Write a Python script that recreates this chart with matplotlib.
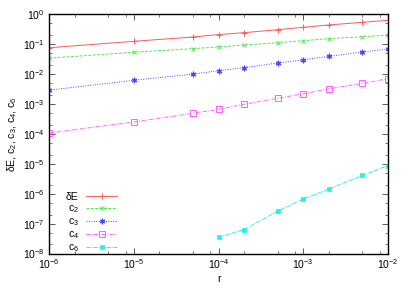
import matplotlib
matplotlib.use("Agg")
import matplotlib.pyplot as plt
from matplotlib.ticker import LogLocator, NullFormatter

r = [1e-6, 1e-5, 5e-5, 1e-4, 2e-4, 5e-4, 1e-3, 2e-3, 5e-3, 1e-2]
dE = [0.076, 0.125, 0.174, 0.21, 0.243, 0.305, 0.367, 0.44, 0.54, 0.63]
c2 = [0.034, 0.054, 0.071, 0.081, 0.094, 0.112, 0.131, 0.153, 0.178, 0.203]
c3 = [0.0029, 0.0062, 0.010, 0.013, 0.0164, 0.0235, 0.030, 0.039, 0.055, 0.069]
c4 = [1.07e-4, 2.5e-4, 4.9e-4, 6.6e-4, 9.8e-4, 1.55e-3, 2.2e-3, 3.2e-3, 4.9e-3, 7.0e-3]
r6 = [1e-4, 2e-4, 5e-4, 1e-3, 2e-3, 5e-3, 1e-2]
c6 = [3.5e-8, 6.3e-8, 2.6e-7, 6.6e-7, 1.43e-6, 4.1e-6, 8.7e-6]

plt.rcParams['font.family'] = ['Liberation Sans', 'DejaVu Sans']
plt.rcParams['mathtext.fontset'] = 'custom'
plt.rcParams['mathtext.rm'] = 'Liberation Sans'
plt.rcParams['mathtext.it'] = 'Liberation Sans'

fig = plt.figure(figsize=(4.15, 2.91), dpi=100)
ax = fig.add_axes([49/415, 1-253.5/291, (388-49)/415, (253.5-14.3)/291])

fs = 7.5
ax.plot(r, dE, color='#ff5a5a', lw=0.7, ls='-', marker='+', ms=4, mew=0.7, label='δE')
ax.plot(r, c2, color='#50e850', lw=0.7, ls=(0, (3, 1.5)), marker='x', ms=3.5, mew=0.7, label='c$_2$')
ax.plot(r, c3, color='#4848ff', lw=0.7, ls=(0, (1, 1.5)), marker=(6, 2, 0), ms=4, mew=0.9, label='c$_3$')
ax.plot(r, c4, color='#ff60ff', lw=0.7, ls=(0, (4, 1.5, 1, 1.5)), marker='s', ms=3.8, mew=0.7,
        mfc='none', label='c$_4$')
ax.plot(r6, c6, color='#20f0f0', lw=0.7, ls=(0, (4, 1, 1, 1)), marker='s', ms=3.3, mew=0.5,
        label='c$_6$')

ax.set_xscale('log')
ax.set_yscale('log')
ax.set_xlim(1e-6, 1e-2)
ax.set_ylim(1e-8, 1e0)

ax.xaxis.set_major_locator(LogLocator(base=10, numticks=20))
ax.xaxis.set_minor_locator(LogLocator(base=10, subs=(2, 5, 8), numticks=20))
ax.yaxis.set_major_locator(LogLocator(base=10, numticks=20))
ax.yaxis.set_minor_locator(LogLocator(base=10, subs=(2, 5), numticks=20))
ax.xaxis.set_minor_formatter(NullFormatter())
ax.yaxis.set_minor_formatter(NullFormatter())

ax.tick_params(which='both', direction='in', top=True, right=True, labelsize=fs, color='#404040')
ax.tick_params(which='major', length=4, width=0.6, pad=3)
ax.tick_params(which='minor', length=2, width=0.5)
for s in ax.spines.values():
    s.set_linewidth(1.0)
    s.set_color('black')

ax.set_xlabel('r', fontsize=fs, labelpad=2)
ax.set_ylabel('δE, c$_2$, c$_3$, c$_4$, c$_6$', fontsize=fs, labelpad=3)

leg = ax.legend(loc='lower left', bbox_to_anchor=(0.035, -0.025), frameon=False, fontsize=fs,
                markerfirst=False, handlelength=3.0, handletextpad=0.7, labelspacing=0.12,
                borderaxespad=0.1)

fig.savefig('out.png', dpi=100)
